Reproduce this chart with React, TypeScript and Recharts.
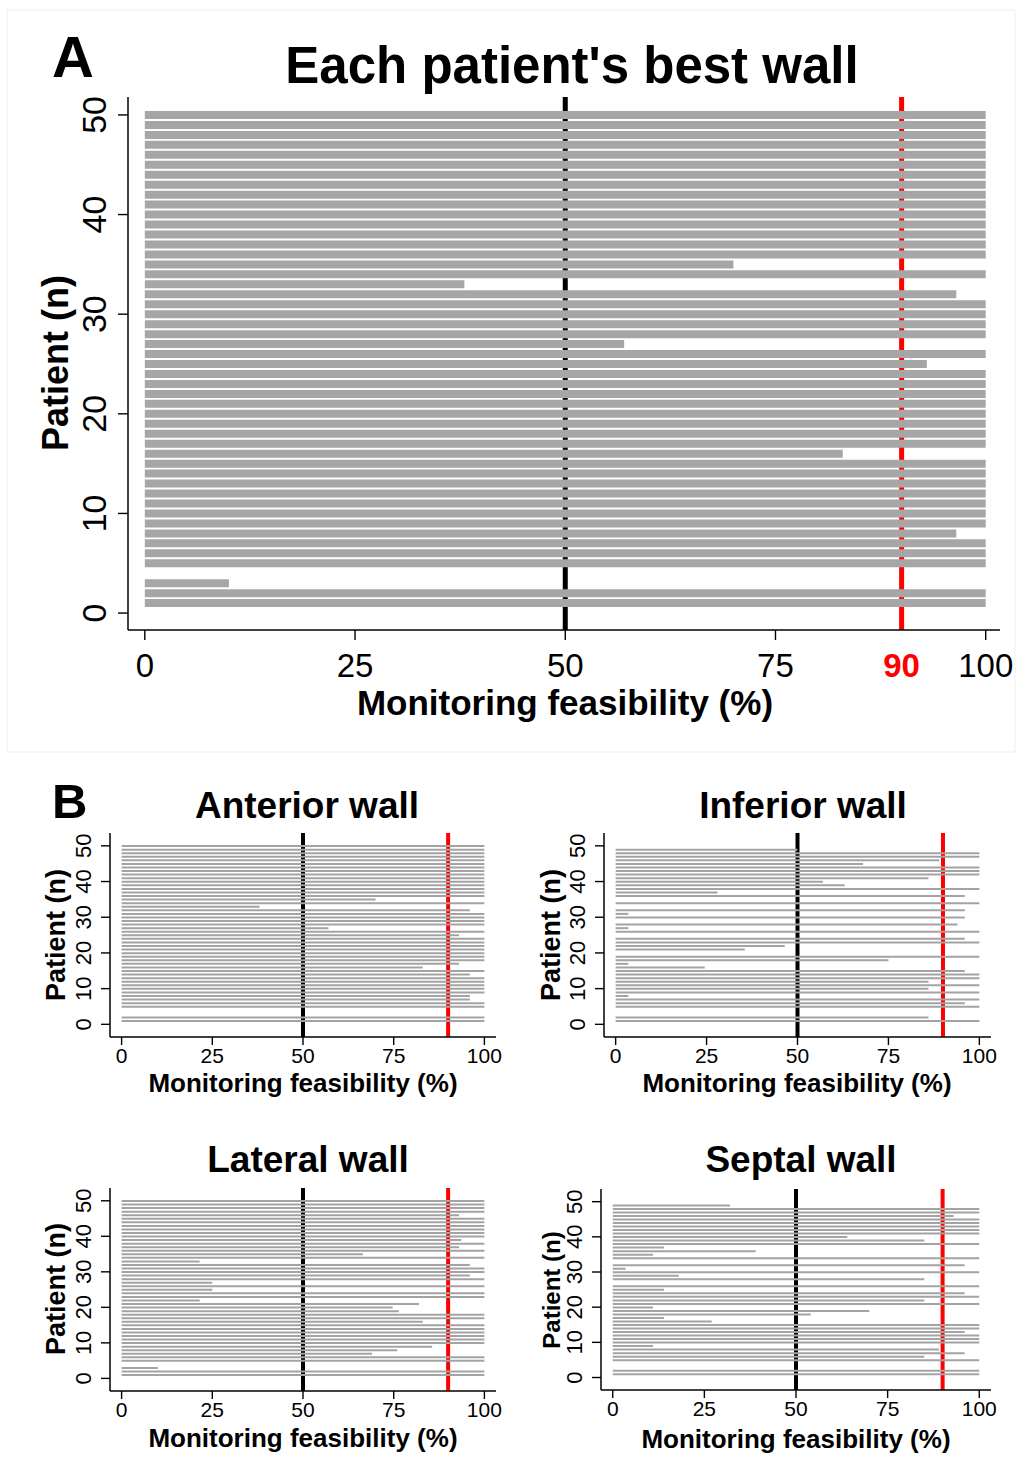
import React from 'react';
import { BarChart, Bar, XAxis, YAxis, ReferenceLine } from 'recharts';

// patient ids (category axis)
const patients = [
  1, 2, 3, 4, 5, 6, 7, 8, 9, 10, 11, 12, 13, 14, 15, 16, 17, 18, 19, 20, 21, 22, 23, 24, 25,
  26, 27, 28, 29, 30, 31, 32, 33, 34, 35, 36, 37, 38, 39, 40, 41, 42, 43, 44, 45, 46, 47, 48, 49, 50,
];

// monitoring feasibility (%) per patient, patient 1 first
const bestWall = [
  100, 100, 10, 0, 100, 100, 100, 96.5, 100, 100,
  100, 100, 100, 100, 100, 83, 100, 100, 100, 100,
  100, 100, 100, 100, 93, 100, 57, 100, 100, 100,
  100, 96.5, 38, 100, 70, 100, 100, 100, 100, 100,
  100, 100, 100, 100, 100, 100, 100, 100, 100, 100,
];
const anteriorWall = [
  100, 100, 0, 0, 100, 100, 96, 96, 100, 100,
  100, 100, 100, 96, 100, 83, 93, 100, 100, 100,
  100, 100, 100, 100, 93, 100, 57, 100, 100, 100,
  100, 96, 38, 100, 70, 100, 100, 100, 100, 100,
  100, 100, 100, 100, 100, 100, 100, 100, 100, 100,
];
const inferiorWall = [
  100, 86, 0, 0, 100, 96, 100, 3.5, 100, 86,
  100, 86, 100, 100, 96, 24.5, 3.5, 75, 100, 0,
  35.5, 46.5, 100, 96, 0, 100, 3.5, 94, 0, 96,
  3.5, 96, 0, 100, 0, 96, 28, 100, 63, 57,
  86, 100, 100, 100, 68, 89, 100, 100, 50, 0,
];
const lateralWall = [
  100, 100, 10, 0, 100, 100, 69, 76, 85.6, 100,
  100, 100, 100, 100, 100, 83, 100, 100, 76.4, 74.7,
  82, 21.5, 100, 100, 25, 100, 25, 100, 96, 100,
  100, 96, 21.5, 100, 66.5, 100, 93, 100, 93.6, 100,
  100, 100, 100, 100, 100, 93, 100, 100, 100, 100,
];
const septalWall = [
  100, 100, 0, 0, 100, 85, 96, 89, 11, 100,
  100, 100, 96, 100, 100, 27, 14, 54, 70, 11,
  100, 85, 100, 96, 14, 100, 0, 85, 18, 100,
  3.5, 96, 0, 100, 11, 39, 14, 100, 85, 64,
  100, 100, 100, 100, 100, 93, 100, 100, 32, 0,
];

const xTicksA = [0, 25, 50, 75, 90, 100];
const xTicksB = [0, 25, 50, 75, 100];
const yTicks = [0, 10, 20, 30, 40, 50];

const FONT = '"Liberation Sans", Arial, Helvetica, sans-serif';

const toRows = (vals: number[]) => patients.map((p, i) => ({ patient: p, value: vals[i] }));

// ---- tick renderers (axis drawn with tickSize 0, so x/y sit on the axis line) ----
const makeXTick = (len: number, gap: number, fs: number) => (props: any) => {
  const { x, y, payload } = props;
  const is90 = payload.value === 90;
  return (
    <g>
      {!is90 && <line x1={x} x2={x} y1={y} y2={y + len} stroke="#000" strokeWidth={1.4} />}
      <text
        x={x}
        y={y + gap}
        textAnchor="middle"
        fontFamily={FONT}
        fontSize={fs}
        fontWeight={is90 ? 700 : 400}
        fill={is90 ? '#ff0000' : '#000'}
      >
        {payload.value}
      </text>
    </g>
  );
};

const makeYTick = (len: number, gap: number, fs: number) => (props: any) => {
  const { x, y, payload } = props;
  return (
    <g>
      <line x1={x - len} x2={x} y1={y} y2={y} stroke="#000" strokeWidth={1.4} />
      <text
        x={x - gap}
        y={y}
        transform={`rotate(-90, ${x - gap}, ${y})`}
        textAnchor="middle"
        fontFamily={FONT}
        fontSize={fs}
        fill="#000"
      >
        {payload.value}
      </text>
    </g>
  );
};

const axisLine = { stroke: '#000', strokeWidth: 1.5 };

// ---- panel A ----
const PanelA = () => (
  <div style={{ position: 'absolute', left: 0, top: 0 }}>
    <BarChart
      width={1017}
      height={760}
      layout="vertical"
      data={toRows(bestWall)}
      margin={{ top: 97, right: 17, bottom: 129, left: 127 }}
    >
      <XAxis
        type="number"
        domain={[-2, 101.7]}
        allowDataOverflow
        ticks={xTicksA}
        height={1}
        tickSize={0}
        tickMargin={0}
        tickLine={false}
        axisLine={axisLine}
        interval={0}
        tick={makeXTick(10, 47, 33)}
      />
      <YAxis
        type="number"
        dataKey="patient"
        domain={[-1.7, 51.8]}
        allowDataOverflow
        reversed
        ticks={yTicks}
        width={1}
        tickSize={0}
        tickMargin={0}
        tickLine={false}
        axisLine={axisLine}
        interval={0}
        tick={makeYTick(10, 22, 34)}
      />
      <ReferenceLine x={50} stroke="#000" strokeWidth={5} zIndex={200} />
      <ReferenceLine x={90} stroke="#ff0000" strokeWidth={5} zIndex={200} />
      <Bar dataKey="value" fill="#a6a6a6" barSize={8} isAnimationActive={false} />
    </BarChart>
  </div>
);

// ---- small panels of B ----
interface SmallProps {
  values: number[];
  plotLeft: number;
  plotTop: number;
  plotW: number;
  plotH: number;
}

const M = 50;

const SmallPanel: React.FC<SmallProps> = ({ values, plotLeft, plotTop, plotW, plotH }) => (
  <div style={{ position: 'absolute', left: plotLeft - M, top: plotTop - M }}>
    <BarChart
      width={plotW + 2 * M}
      height={plotH + 2 * M}
      layout="vertical"
      data={toRows(values)}
      margin={{ top: M, right: M, bottom: M - 1, left: M - 1 }}
    >
      <XAxis
        type="number"
        domain={[-3.2, 103.2]}
        allowDataOverflow
        ticks={xTicksB}
        height={1}
        tickSize={0}
        tickMargin={0}
        tickLine={false}
        axisLine={axisLine}
        interval={0}
        tick={makeXTick(8, 26, 21)}
      />
      <YAxis
        type="number"
        dataKey="patient"
        domain={[-3.55, 53.6]}
        allowDataOverflow
        reversed
        ticks={yTicks}
        width={1}
        tickSize={0}
        tickMargin={0}
        tickLine={false}
        axisLine={axisLine}
        interval={0}
        tick={makeYTick(9, 19, 22)}
      />
      <ReferenceLine x={50} stroke="#000" strokeWidth={4} zIndex={200} />
      <ReferenceLine x={90} stroke="#ff0000" strokeWidth={4} zIndex={200} />
      <Bar dataKey="value" fill="#a3a3a3" barSize={2} isAnimationActive={false} />
    </BarChart>
  </div>
);

const txt = (
  x: number,
  y: number,
  s: string,
  fs: number,
  opts: { anchor?: string; rotate?: boolean } = {},
) => (
  <text
    x={x}
    y={y}
    fontFamily={FONT}
    fontSize={fs}
    fontWeight={700}
    fill="#000"
    textAnchor={opts.anchor || 'middle'}
    transform={opts.rotate ? `rotate(-90, ${x}, ${y})` : undefined}
  >
    {s}
  </text>
);

export default function App() {
  return (
    <div
      style={{
        position: 'absolute',
        left: 0,
        top: 0,
        width: 1017,
        height: 1462,
        background: '#fff',
        overflow: 'hidden',
      }}
    >
      <svg width={1017} height={1462} style={{ position: 'absolute', left: 0, top: 0 }}>
        <rect x={7} y={10} width={1008} height={742} fill="none" stroke="#efefef" strokeWidth={1} />
      </svg>

      <PanelA />
      <SmallPanel values={anteriorWall} plotLeft={110} plotTop={833} plotW={386} plotH={204} />
      <SmallPanel values={inferiorWall} plotLeft={604} plotTop={833} plotW={387} plotH={204} />
      <SmallPanel values={lateralWall} plotLeft={110} plotTop={1188} plotW={386} plotH={203} />
      <SmallPanel values={septalWall} plotLeft={601} plotTop={1189} plotW={390} plotH={201} />

      <svg
        width={1017}
        height={1462}
        style={{ position: 'absolute', left: 0, top: 0, pointerEvents: 'none' }}
      >
        {txt(52, 77, 'A', 58, { anchor: 'start' })}
        {txt(572, 83, "Each patient's best wall", 51)}
        {txt(68, 363, 'Patient (n)', 36, { rotate: true })}
        {txt(565, 715, 'Monitoring feasibility (%)', 35)}

        {txt(52, 818, 'B', 49, { anchor: 'start' })}
        {txt(307, 818, 'Anterior wall', 37)}
        {txt(803, 818, 'Inferior wall', 37)}
        {txt(308, 1172, 'Lateral wall', 37)}
        {txt(801, 1172, 'Septal wall', 37)}

        {txt(65, 935, 'Patient (n)', 27, { rotate: true })}
        {txt(560, 935, 'Patient (n)', 27, { rotate: true })}
        {txt(65, 1289, 'Patient (n)', 27, { rotate: true })}
        {txt(560, 1290, 'Patient (n)', 24, { rotate: true })}

        {txt(303, 1092, 'Monitoring feasibility (%)', 26)}
        {txt(797, 1092, 'Monitoring feasibility (%)', 26)}
        {txt(303, 1447, 'Monitoring feasibility (%)', 26)}
        {txt(796, 1448, 'Monitoring feasibility (%)', 26)}
      </svg>
    </div>
  );
}
